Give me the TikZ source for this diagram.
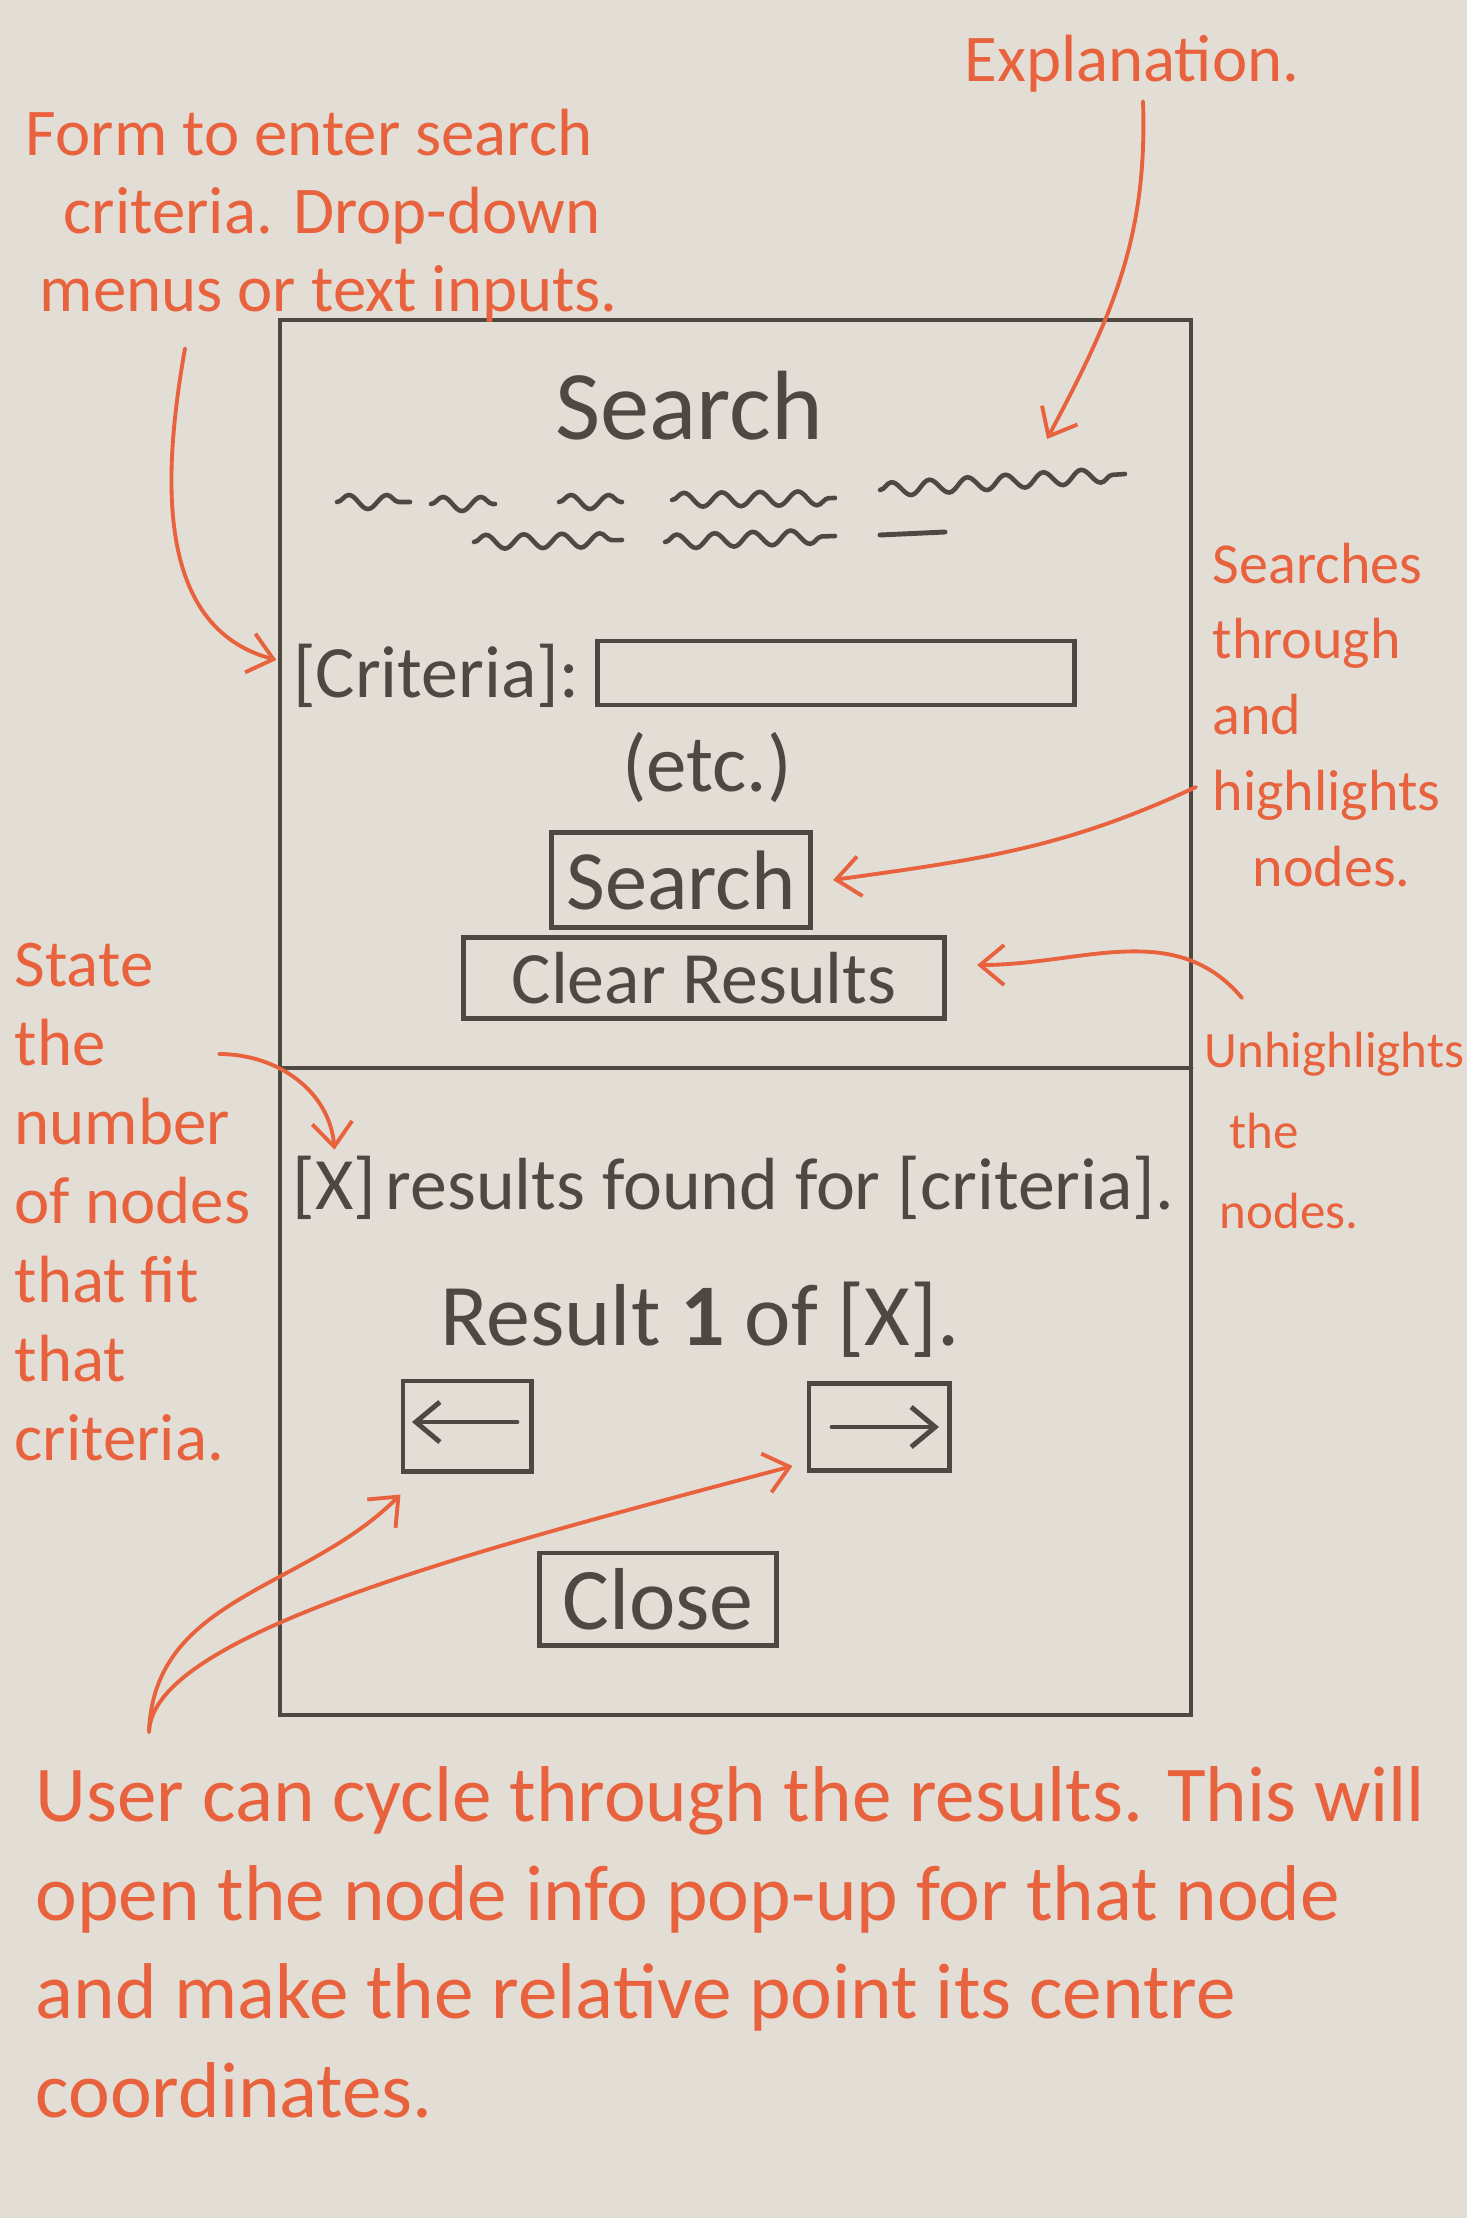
\documentclass[tikz,border=0pt]{standalone}
\usepackage{fontspec}
\setmainfont{Carlito}
\usetikzlibrary{arrows.meta,calc,positioning,decorations.pathmorphing}
\definecolor{sketchpaper}{RGB}{226,222,213}
\definecolor{sketchink}{RGB}{78,72,66}
\definecolor{sketchorange}{RGB}{232,98,62}

\begin{document}
\begin{tikzpicture}[x=0.01cm,y=-0.01cm,line cap=round,
  >={Straight Barb[length=2.4mm,width=4mm]},
  every node/.style={inner sep=0pt},
  ink/.style={draw=sketchink,line width=1.4pt},
  uitext/.style={text=sketchink},
  btn/.style={ink,text=sketchink},
  note/.style={text=sketchorange,align=left},
  notearrow/.style={->,draw=sketchorange,line width=1.1pt},
  squiggle/.style={draw=sketchink,line width=1.3pt,decorate,
    decoration={snake,amplitude=0.7mm,segment length=3.8mm}}]
 \fill[sketchpaper] (0,0) rectangle (1467,2218);
 \useasboundingbox (0,0) rectangle (1467,2218);
 % pop-up window
 \draw[ink] (280,320) rectangle (1191,1715);
 \draw[ink] (280,1068) -- (1191,1068);
 \node[uitext,font=\fontsize{28}{34}\selectfont] (title) at (689,406) {Search};
 \draw[squiggle] (337,502) -- (410,502);
 \draw[squiggle] (431,504) -- (495,504);
 \draw[squiggle] (559,502) -- (622,502);
 \draw[squiggle] (672,500) -- (835,498);
 \draw[squiggle] (880,490) -- (1125,474);
 \draw[squiggle] (474,542) -- (622,540);
 \draw[squiggle] (665,542) -- (835,536);
 \draw[ink] (880,535) -- (945,532);
 \coordinate (blurb) at (1047,439);
 \node[uitext,font=\fontsize{21}{25}\selectfont] (crit) at (436,676) {[Criteria]:};
 \node[ink,minimum width=4.77cm,minimum height=.64cm] (inputbox) at (836,673) {};
 \node[uitext,font=\fontsize{23}{28}\selectfont] (etc) at (707,768) {(etc.)};
 \node[btn,minimum width=2.59cm,minimum height=.95cm,
  font=\fontsize{24}{28}\selectfont] (searchbtn) at (681,880) {Search};
 \node[btn,minimum width=4.81cm,minimum height=.81cm,
  font=\fontsize{21}{25}\selectfont] (clearbtn) at (704,978) {Clear Results};
 % results part
 \node[uitext,anchor=west,font=\fontsize{21}{25}\selectfont] (xcount) at (292,1188) {[X]};
 \node[uitext,anchor=base west,font=\fontsize{21}{25}\selectfont]
  (foundfor) at ($(xcount.base east)+(8,0)$) {results found for [criteria].};
 \node[uitext,font=\fontsize{25}{30}\selectfont] (resultno) at (700,1320)
  {Result \textbf{1} of [X].};
 \node[ink,minimum width=1.28cm,minimum height=.90cm] (prevbtn) at (467,1426) {};
 \node[ink,minimum width=1.40cm,minimum height=.87cm] (nextbtn) at (879,1427) {};
 \draw[ink,<-] ($(prevbtn.center)+(-55,-4)$) -- ($(prevbtn.center)+(50,-4)$);
 \draw[ink,->] ($(nextbtn.center)+(-47,0)$) -- ($(nextbtn.center)+(60,0)$);
 \node[btn,minimum width=2.37cm,minimum height=.92cm,
  font=\fontsize{25}{30}\selectfont] (closebtn) at (658,1599) {Close};
 % notes
 \node[note,font=\fontsize{19}{23}\selectfont] (explain) at (1132,64) {Explanation.};
 \node[note,anchor=north west,font=\fontsize{19}{22.3}\selectfont] (formnote) at (25,108)
  {Form to enter search\\\hspace*{.38cm}criteria. Drop-down\\\hspace*{.14cm}menus or text inputs.};
 \node[note,anchor=north west,font=\fontsize{16.5}{21.6}\selectfont] (searchnote) at (1212,542)
  {Searches\\through\\and\\highlights\\\hspace*{.4cm}nodes.};
 \node[note,anchor=north west,font=\fontsize{14.5}{23}\selectfont] (unhighnote) at (1204,1031)
  {Unhighlights\\\hspace*{.25cm}the\\\hspace*{.15cm}nodes.};
 \node[note,anchor=north west,font=\fontsize{19}{22.5}\selectfont] (statenote) at (14,942)
  {State\\the\\number\\of nodes\\that fit\\that\\criteria.};
 \node[note,anchor=north west,font=\fontsize{22.5}{28}\selectfont] (usernote) at (35,1766)
  {User can cycle through the results. This will\\
   open the node info pop-up for that node\\
   and make the relative point its centre\\
   coordinates.};
 \draw[notearrow] ($(explain.south)+(11,8)$) to[out=-88,in=62] (blurb);
 \draw[notearrow] ($(formnote.south west)+(160,25)$) to[out=-100,in=165]
  ($(crit.west)+(-16,-16)$);
 \draw[notearrow] ($(searchnote.north west)+(-16,245)$) to[out=205,in=8]
  ($(searchbtn.east)+(20,0)$);
 \draw[notearrow] ($(unhighnote.north west)+(38,-33)$) to[out=130,in=0]
  ($(clearbtn.east)+(30,-13)$);
 \draw[notearrow] ($(statenote.north west)+(205,112)$) to[out=0,in=95]
  ($(xcount.north)+(0,-6)$);
 \draw[notearrow] ($(usernote.north west)+(114,-34)$) to[out=88,in=225]
  ($(prevbtn.south west)+(0,21)$);
 \draw[notearrow] ($(usernote.north west)+(114,-34)$) .. controls +(3,-100) and +(-300,80) ..
  ($(nextbtn.south west)+(-14,-7)$);
\end{tikzpicture}
\end{document}
